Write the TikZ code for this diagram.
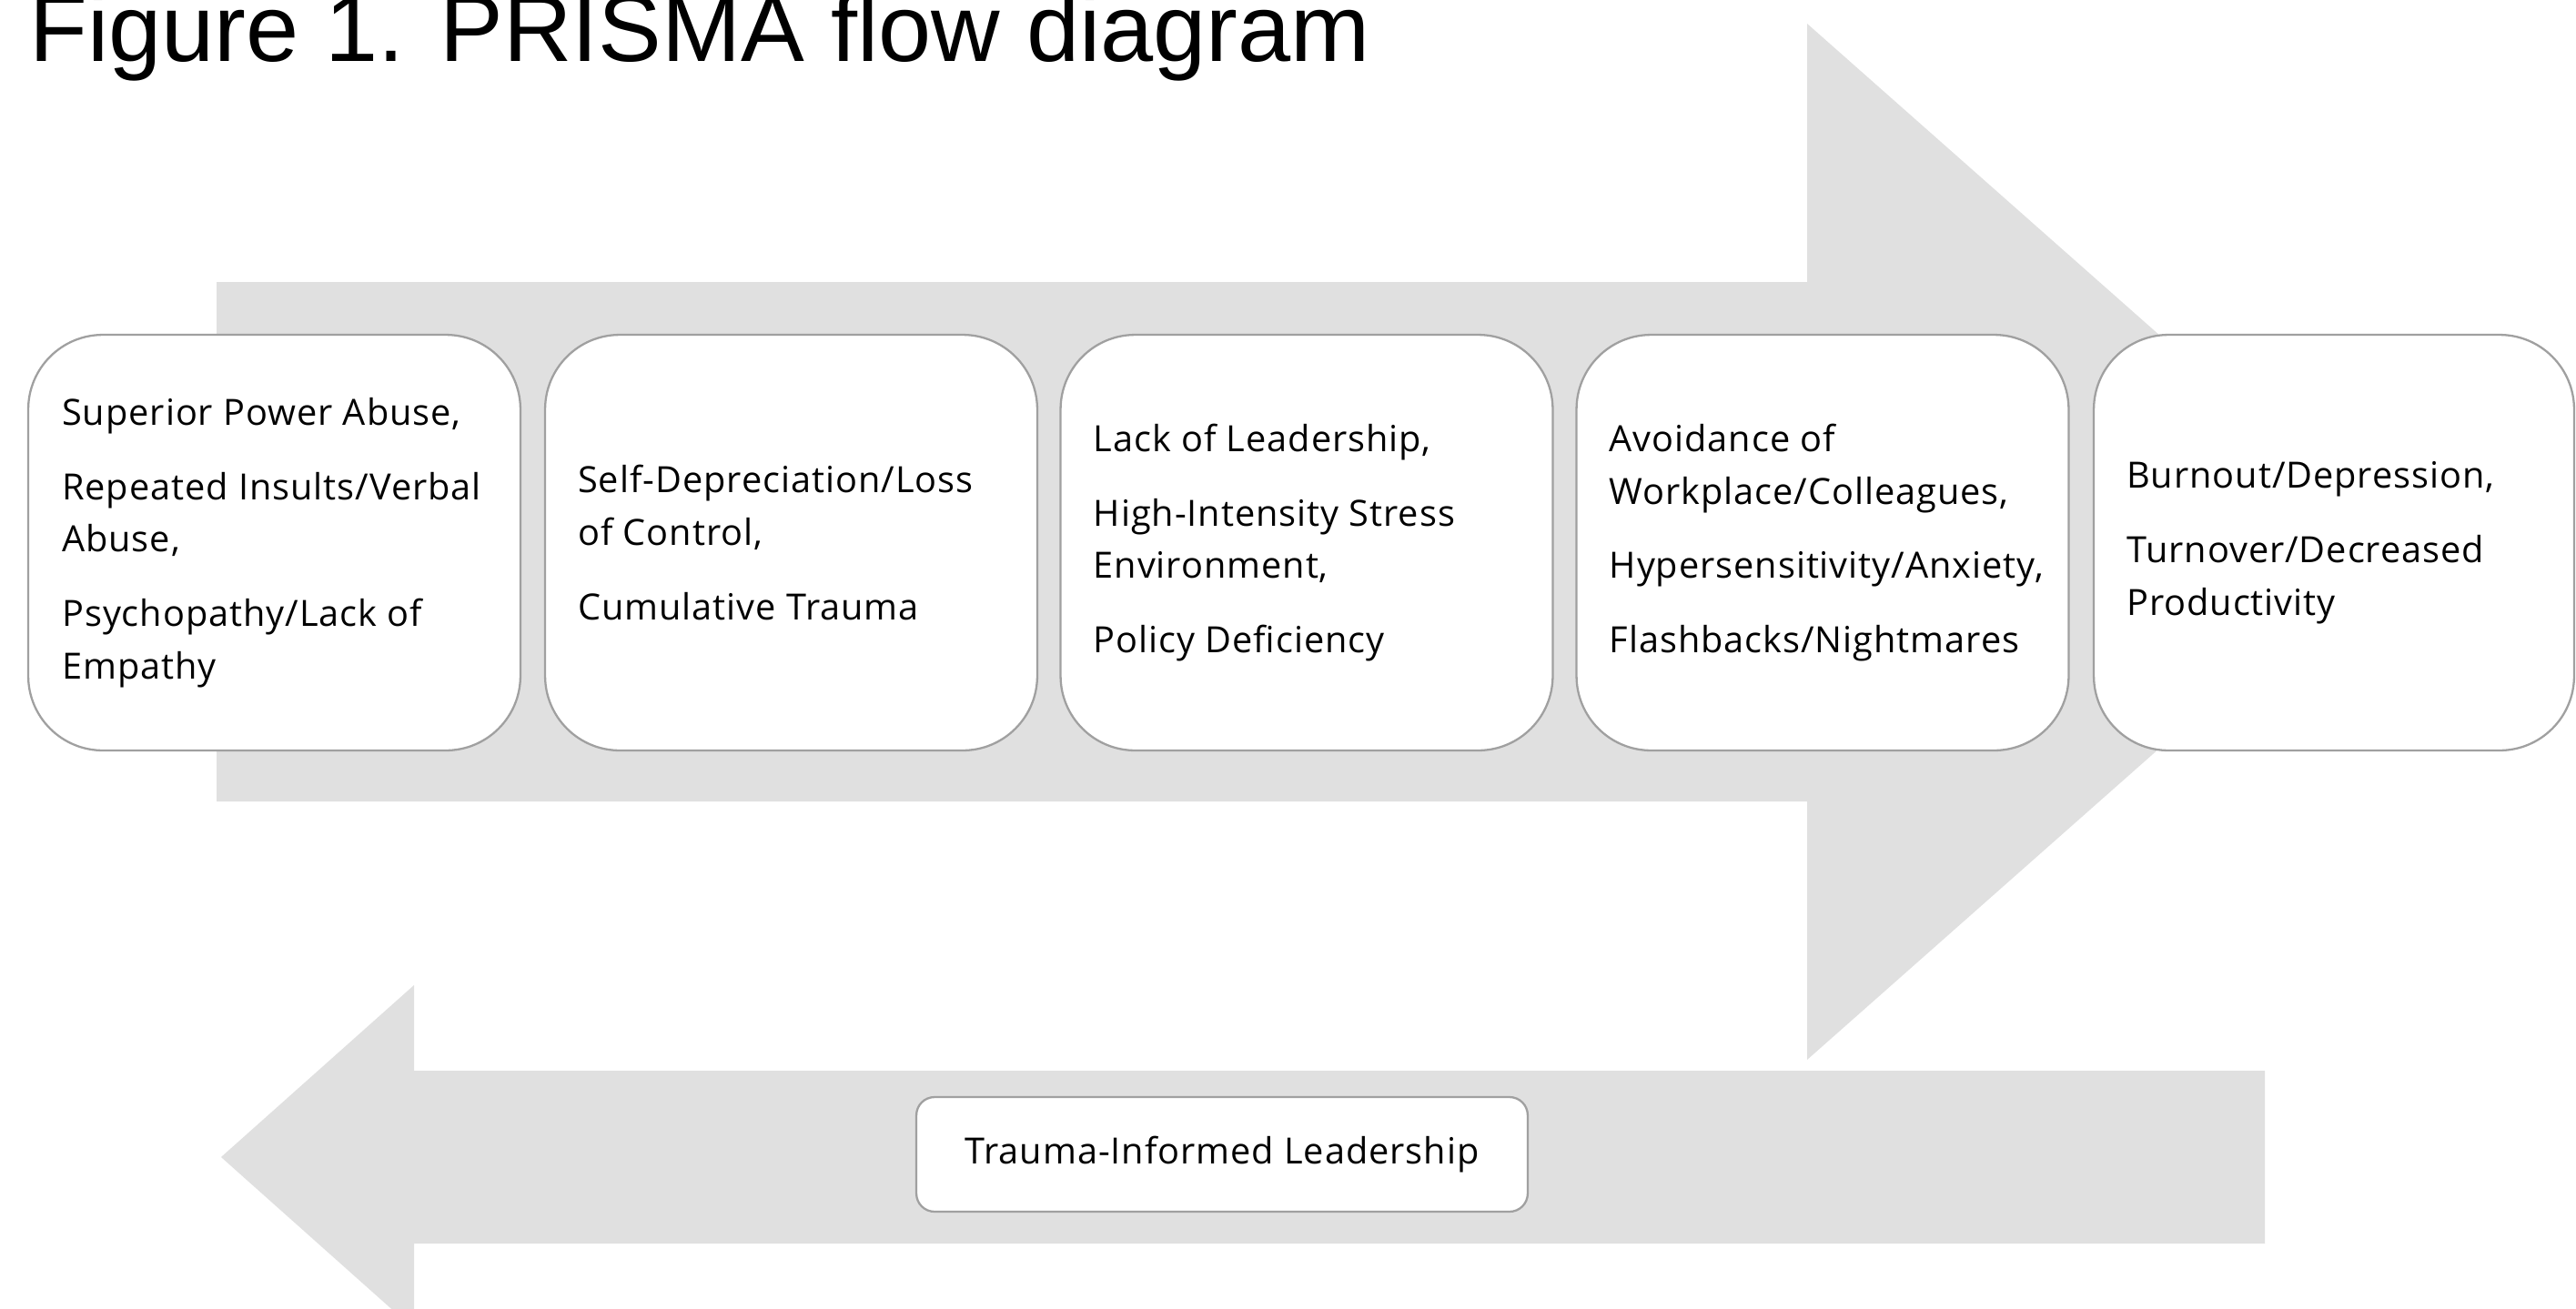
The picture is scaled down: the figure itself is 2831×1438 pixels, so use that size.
\documentclass[tikz,border=0pt]{standalone}
\usepackage{fontspec}
\setmainfont{Liberation Sans}
\newfontfamily\boxfont[LetterSpace=2.4]{Open Sans}
\newfontfamily\titlefont{Liberation Sans}
\definecolor{bandgray}{RGB}{224,224,224}
\definecolor{edgegray}{RGB}{160,160,160}
\begin{document}
\begin{tikzpicture}[x=0.02cm,y=-0.02cm,
  stage/.style={draw=edgegray, line width=1.3pt, fill=white,
    rounded corners=1.64cm, inner sep=0pt,
    minimum width=10.82cm, minimum height=9.14cm},
  stagetext/.style={anchor=west, inner sep=0pt, align=left,
    font=\boxfont\fontsize{22.6pt}{32.9pt}\selectfont},
  leadbox/.style={draw=edgegray, line width=1.3pt, fill=white,
    rounded corners=0.4cm, inner sep=0pt,
    minimum width=13.44cm, minimum height=2.52cm,
    font=\boxfont\fontsize{22.6pt}{32.9pt}\selectfont}]
% canvas
\clip (0,0) rectangle (2831,1438);
\fill[white] (0,0) rectangle (2831,1438);

% title
\node[anchor=base west, inner sep=0pt, font=\titlefont\fontsize{59.5pt}{70pt}\selectfont]
  (title) at (32,67) {Figure 1. PRISMA flow diagram};

% wide arrow pointing right
\fill[bandgray] (238,310) -- (1986,310) -- (1986,26) -- (2630,595.5)
  -- (1986,1165) -- (1986,881) -- (238,881) -- cycle;

% arrow pointing back to the left
\fill[bandgray] (2489,1177) -- (455,1177) -- (455,1083) -- (243,1272)
  -- (455,1461) -- (455,1367) -- (2489,1367) -- cycle;

% stages
\node[stage] (b1) at (301.5,596.5) {};
\node[stage] (b2) at (869.5,596.5) {};
\node[stage] (b3) at (1436,596.5) {};
\node[stage] (b4) at (2003,596.5) {};
\node[stage, minimum width=10.56cm] (b5) at (2565,596.5) {};

\node[stagetext] (t1) at ([xshift=0.76cm]b1.west)
  {Superior Power Abuse,\\[13.6pt]
   Repeated Insults/Verbal\\Abuse,\\[13.6pt]
   Psychopathy/Lack of\\Empathy};
\node[stagetext] (t2) at ([xshift=0.74cm]b2.west)
  {Self-Depreciation/Loss\\of Control,\\[13.6pt]
   Cumulative Trauma};
\node[stagetext] (t3) at ([xshift=0.74cm]b3.west)
  {Lack of Leadership,\\[13.6pt]
   High-Intensity Stress\\Environment,\\[13.6pt]
   Policy Deficiency};
\node[stagetext] (t4) at ([xshift=0.74cm]b4.west)
  {Avoidance of\\Workplace/Colleagues,\\[13.6pt]
   Hypersensitivity/Anxiety,\\[13.6pt]
   Flashbacks/Nightmares};
\node[stagetext] (t5) at ([xshift=0.74cm]b5.west)
  {Burnout/Depression,\\[13.6pt]
   Turnover/Decreased\\Productivity};

% feedback box
\node[leadbox] (lead) at (1343,1269) {Trauma-Informed Leadership};
\end{tikzpicture}
\end{document}
